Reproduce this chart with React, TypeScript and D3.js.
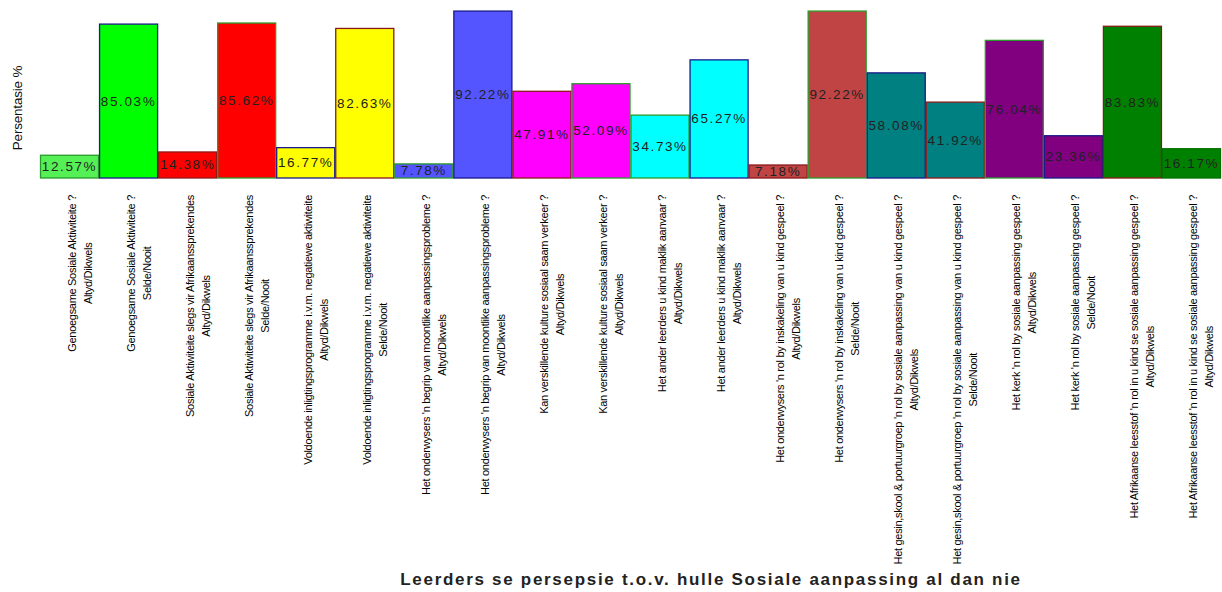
import React from "react";
import * as d3 from "d3";

const questions: string[] = [
  "Genoegsame Sosiale Aktiwiteite ?",
  "Genoegsame Sosiale Aktiwiteite ?",
  "Sosiale Aktiwiteite slegs vir Afrikaanssprekendes",
  "Sosiale Aktiwiteite slegs vir Afrikaanssprekendes",
  "Voldoende inligtingsprogramme i.v.m. negatiewe aktiwiteite",
  "Voldoende inligtingsprogramme i.v.m. negatiewe aktiwiteite",
  "Het onderwysers 'n begrip van moontlike aanpassingsprobleme ?",
  "Het onderwysers 'n begrip van moontlike aanpassingsprobleme ?",
  "Kan verskillende kulture sosiaal saam verkeer ?",
  "Kan verskillende kulture sosiaal saam verkeer ?",
  "Het ander leerders u kind maklik aanvaar ?",
  "Het ander leerders u kind maklik aanvaar ?",
  "Het onderwysers 'n rol by inskakeling van u kind gespeel ?",
  "Het onderwysers 'n rol by inskakeling van u kind gespeel ?",
  "Het gesin,skool & portuurgroep 'n rol by sosiale aanpassing van u kind gespeel ?",
  "Het gesin,skool & portuurgroep 'n rol by sosiale aanpassing van u kind gespeel ?",
  "Het kerk 'n rol by sosiale aanpassing gespeel ?",
  "Het kerk 'n rol by sosiale aanpassing gespeel ?",
  "Het Afrikaanse leesstof 'n rol in u kind se sosiale aanpassing gespeel ?",
  "Het Afrikaanse leesstof 'n rol in u kind se sosiale aanpassing gespeel ?",
];

const answers: string[] = [
  "Altyd/Dikwels", "Selde/Nooit",
  "Altyd/Dikwels", "Selde/Nooit",
  "Altyd/Dikwels", "Selde/Nooit",
  "Altyd/Dikwels", "Altyd/Dikwels",
  "Altyd/Dikwels", "Altyd/Dikwels",
  "Altyd/Dikwels", "Altyd/Dikwels",
  "Altyd/Dikwels", "Selde/Nooit",
  "Altyd/Dikwels", "Selde/Nooit",
  "Altyd/Dikwels", "Selde/Nooit",
  "Altyd/Dikwels", "Altyd/Dikwels",
];

const values: number[] = [
  12.57, 85.03, 14.38, 85.62, 16.77, 82.63, 7.78, 92.22, 47.91, 52.09,
  34.73, 65.27, 7.18, 92.22, 58.08, 41.92, 76.04, 23.36, 83.83, 16.17,
];

const fills: string[] = [
  "#55f055", "#00ff00", "#ff0000", "#ff0000", "#ffff00", "#ffff00",
  "#5555ff", "#5555ff", "#ff00ff", "#ff00ff", "#00ffff", "#00ffff",
  "#c04444", "#c04444", "#008080", "#008080", "#800080", "#800080",
  "#008000", "#008000",
];

const strokes: string[] = [
  "#2a9a2a", "#1a1a8a", "#8a1a1a", "#2a9a2a", "#1a1a8a", "#8a1a1a",
  "#2a9a2a", "#1a1a8a", "#8a1a1a", "#2a9a2a", "#2a9a2a", "#1a1a8a",
  "#8a1a1a", "#2a9a2a", "#1a1a8a", "#8a1a1a", "#2a9a2a", "#1a1a8a",
  "#8a1a1a", "#007000",
];

const yTitle = "Persentasie %";
const xTitle = "Leerders se persepsie t.o.v. hulle Sosiale aanpassing al dan nie";

const LABEL_FS = 11;
const LABEL_LS = -0.3;

export default function App() {
  const W = 1222;
  const H = 592;
  const left = 40;
  const right = 1221;
  const base = 178;
  const idx = values.map((_, i) => String(i));
  const x = d3.scaleBand<string>().domain(idx).range([left, right]).padding(0);
  const y = d3.scaleLinear().domain([0, 100]).range([base, -3]);
  const bw = x.bandwidth();
  const labelTop = 195;
  const font = "'Liberation Sans', Arial, sans-serif";

  return (
    <svg
      width={W}
      height={H}
      style={{ position: "absolute", left: 0, top: 0, background: "#fff" }}
      fontFamily={font}
    >
      {values.map((v, i) => {
        const x0 = x(String(i))!;
        const y0 = y(v);
        return (
          <g key={i}>
            <rect
              x={x0 + 0.5}
              y={y0}
              width={bw - 1}
              height={base - y0}
              fill={fills[i]}
              stroke={strokes[i]}
              strokeWidth={1.3}
            />
            <text
              x={x0 + bw / 2}
              y={(y0 + base) / 2}
              textAnchor="middle"
              dominantBaseline="central"
              fontSize={13.5}
              letterSpacing={1.6}
              fill="#222"
            >
              {v.toFixed(2)}%
            </text>
          </g>
        );
      })}
      {values.map((_, i) => {
        const cx = x(String(i))! + bw / 2;
        return (
          <g key={"l" + i} fontSize={LABEL_FS} fill="#000" letterSpacing={LABEL_LS}>
            <text
              transform={`translate(${cx + 2},${labelTop}) rotate(-90)`}
              textAnchor="end"
              dominantBaseline="central"
            >
              {questions[i]}
            </text>
            <LabelAnswer cx={cx} labelTop={labelTop} q={questions[i]} a={answers[i]} />
          </g>
        );
      })}
      <text
        transform={`translate(17,${108}) rotate(-90)`}
        textAnchor="middle"
        dominantBaseline="central"
        fontSize={13.5}
        fill="#111"
        letterSpacing={-0.2}
      >
        {yTitle}
      </text>
      <text
        x={711}
        y={585}
        textAnchor="middle"
        fontSize={17}
        fontWeight="bold"
        fill="#222"
        letterSpacing={1.7}
      >
        {xTitle}
      </text>
    </svg>
  );
}

function LabelAnswer({ cx, labelTop, q, a }: { cx: number; labelTop: number; q: string; a: string }) {
  const ref = React.useRef<SVGTextElement>(null);
  const [off, setOff] = React.useState<number | null>(null);
  React.useEffect(() => {
    const svg = ref.current?.ownerSVGElement;
    if (!svg) return;
    const t = document.createElementNS("http://www.w3.org/2000/svg", "text");
    t.setAttribute("font-size", String(LABEL_FS));
    t.setAttribute("letter-spacing", String(LABEL_LS));
    t.setAttribute("font-family", "'Liberation Sans', Arial, sans-serif");
    t.textContent = q;
    svg.appendChild(t);
    const len = t.getComputedTextLength();
    svg.removeChild(t);
    setOff(len / 2);
  }, [q]);
  const mid = off === null ? 80 : off;
  return (
    <text
      ref={ref}
      transform={`translate(${cx + 18},${labelTop + mid}) rotate(-90)`}
      textAnchor="middle"
      dominantBaseline="central"
    >
      {a}
    </text>
  );
}
